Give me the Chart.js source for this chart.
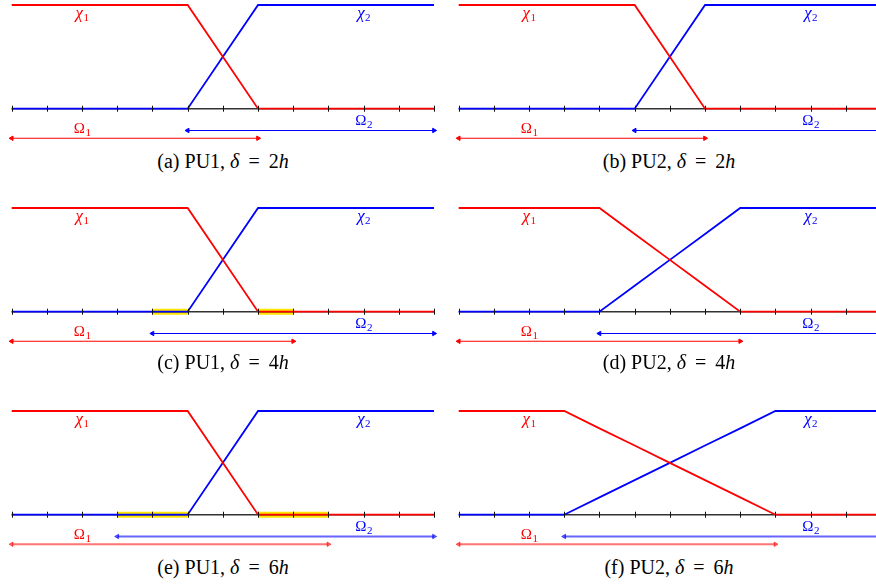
<!DOCTYPE html>
<html>
<head>
<meta charset="utf-8">
<script src="https://cdn.jsdelivr.net/npm/chart.js@4/dist/chart.umd.min.js"></script>
<style>
  html, body { margin: 0; padding: 0; background: #fff; }
  body { width: 876px; height: 586px; overflow: hidden; position: relative; }
  .panel { position: absolute; width: 440px; height: 150px; }
  .cap {
    position: absolute; transform: translate(-50%, -50%);
    font-family: "Liberation Serif", "DejaVu Serif", serif; font-size: 20px;
    white-space: nowrap; color: #000; line-height: 1;
  }
  .cap .eq { display: inline-block; padding: 0 0.45em; }
</style>
</head>
<body>
<script>
// ── Data ─────────────────────────────────
// grid nodes along the axis (ticks)
const xTicks = [0, 1, 2, 3, 4, 5, 6, 7, 8, 9, 10, 11, 12];

const captionTags = ['(a)', '(b)', '(c)', '(d)', '(e)', '(f)'];
const methods = ['PU1', 'PU2', 'PU1', 'PU2', 'PU1', 'PU2'];
const deltas = ['2', '2', '4', '4', '6', '6'];

// χ1 at every grid node, one row per panel
const chi1Values = [
  [1, 1, 1, 1, 1, 1, 0.5, 0, 0, 0, 0, 0, 0],
  [1, 1, 1, 1, 1, 1, 0.5, 0, 0, 0, 0, 0, 0],
  [1, 1, 1, 1, 1, 1, 0.5, 0, 0, 0, 0, 0, 0],
  [1, 1, 1, 1, 1, 0.75, 0.5, 0.25, 0, 0, 0, 0, 0],
  [1, 1, 1, 1, 1, 1, 0.5, 0, 0, 0, 0, 0, 0],
  [1, 1, 1, 1, 0.833, 0.667, 0.5, 0.333, 0.167, 0, 0, 0, 0]
];
// χ2 at every grid node
const chi2Values = [
  [0, 0, 0, 0, 0, 0, 0.5, 1, 1, 1, 1, 1, 1],
  [0, 0, 0, 0, 0, 0, 0.5, 1, 1, 1, 1, 1, 1],
  [0, 0, 0, 0, 0, 0, 0.5, 1, 1, 1, 1, 1, 1],
  [0, 0, 0, 0, 0, 0.25, 0.5, 0.75, 1, 1, 1, 1, 1],
  [0, 0, 0, 0, 0, 0, 0.5, 1, 1, 1, 1, 1, 1],
  [0, 0, 0, 0, 0.167, 0.333, 0.5, 0.667, 0.833, 1, 1, 1, 1]
];
// subdomain extents [start, end]
const omega1 = [[0, 7], [0, 7], [0, 8], [0, 8], [0, 9], [0, 9]];
const omega2 = [[5, 12], [5, 12], [4, 12], [4, 12], [3, 12], [3, 12]];
// highlighted overlap bands
const bands = [[], [], [[4, 5], [7, 8]], [], [[3, 5], [7, 9]], []];
// where the labels sit along x
const chiLabelX = [2, 10];
const omegaLabelX = [2, 10];

// ── Layout / style ─────────────────────────────────
const colLeft = [0, 446.6];
const rowTop = [0, 203, 406];
const capCenter = [[223, 161], [669, 161], [223, 362], [669, 362], [223, 567], [669, 567]];
const arrowY = [-0.21, -0.285];
const arrowWidth = [1.2, 1.2, 1.2, 1.2, 2, 2];
const RED = '#ff0000', BLUE = '#0000ff';
const RED_SOFT = 'rgba(255,0,0,0.55)', BLUE_SOFT = 'rgba(0,0,255,0.6)';

Chart.defaults.animation = false;

const decor = {
  id: 'decor',
  afterDatasetsDraw(chart, args, opts) {
    const ctx = chart.ctx, xs = chart.scales.x, ys = chart.scales.y;
    const y0 = ys.getPixelForValue(0);
    ctx.save();
    // tick marks
    ctx.strokeStyle = '#111';
    ctx.lineWidth = 1;
    xTicks.forEach(t => {
      const px = Math.round(xs.getPixelForValue(t)) + 0.5;
      ctx.beginPath(); ctx.moveTo(px, y0 - 3); ctx.lineTo(px, y0 + 3); ctx.stroke();
    });
    // labels
    const serif = '"Liberation Serif", "DejaVu Serif", serif';
    const label = (main, sub, x, base, color, italic, size) => {
      const mainFont = (italic ? 'italic ' : '') + size + 'px ' + serif;
      const subFont = '11px ' + serif;
      ctx.fillStyle = color;
      ctx.textBaseline = 'alphabetic';
      ctx.textAlign = 'left';
      ctx.font = mainFont;
      const w1 = ctx.measureText(main).width;
      ctx.font = subFont;
      const w2 = ctx.measureText(sub).width;
      const left = x - (w1 + w2) / 2;
      ctx.font = mainFont;
      ctx.fillText(main, left, base);
      ctx.font = subFont;
      ctx.fillText(sub, left + w1 + 0.5, base + 3);
    };
    const yTop = ys.getPixelForValue(1);
    label('χ', '1', xs.getPixelForValue(chiLabelX[0]), yTop + 13, RED, true, 17);
    label('χ', '2', xs.getPixelForValue(chiLabelX[1]), yTop + 13, BLUE, true, 17);
    label('Ω', '1', xs.getPixelForValue(omegaLabelX[0]), ys.getPixelForValue(arrowY[1]) - 5, RED, false, 15);
    label('Ω', '2', xs.getPixelForValue(omegaLabelX[1]), ys.getPixelForValue(arrowY[0]) - 5, BLUE, false, 15);
    ctx.restore();
  }
};

function nodes(values) {
  return values.map((v, i) => ({ x: xTicks[i], y: v }));
}

function bandPoints(list) {
  const pts = [];
  list.forEach(([a, b]) => {
    pts.push({ x: a, y: 0 }, { x: b, y: 0 }, { x: b, y: null });
  });
  return pts;
}

function arrow(range, y, color, width) {
  return {
    data: [{ x: range[0], y: y }, { x: range[1], y: y }],
    showLine: true, borderColor: color, backgroundColor: color, borderWidth: width,
    pointStyle: 'triangle', pointRadius: 2.6, pointBorderWidth: 1, pointBorderColor: color,
    pointRotation: [270, 90], clip: false, order: 3
  };
}

for (let i = 0; i < 6; i++) {
  const col = i % 2, row = Math.floor(i / 2);
  const box = document.createElement('div');
  box.className = 'panel';
  box.style.left = colLeft[col] + 'px';
  box.style.top = rowTop[row] + 'px';
  const canvas = document.createElement('canvas');
  canvas.width = 440; canvas.height = 150;
  box.appendChild(canvas);
  document.body.appendChild(box);

  const cap = document.createElement('div');
  cap.className = 'cap';
  cap.style.left = capCenter[i][0] + 'px';
  cap.style.top = capCenter[i][1] + 'px';
  cap.innerHTML = `${captionTags[i]} ${methods[i]}, <i>δ</i><span class="eq">=</span>${deltas[i]}<i>h</i>`;
  document.body.appendChild(cap);

  const soft = i >= 4;
  new Chart(canvas, {
    type: 'scatter',
    data: {
      datasets: [
        { data: nodes(chi1Values[i]), showLine: true, borderColor: RED, borderWidth: 1.8, pointRadius: 0, tension: 0, clip: false, order: 1 },
        { data: nodes(chi2Values[i]), showLine: true, borderColor: BLUE, borderWidth: 1.8, pointRadius: 0, tension: 0, clip: false, order: 2 },
        arrow(omega2[i], arrowY[0], soft ? BLUE_SOFT : BLUE, arrowWidth[i]),
        arrow(omega1[i], arrowY[1], soft ? RED_SOFT : RED, arrowWidth[i]),
        { data: [{ x: xTicks[0], y: 0 }, { x: xTicks[xTicks.length - 1], y: 0 }], showLine: true, borderColor: '#333', borderWidth: 1.4, pointRadius: 0, clip: false, order: 5 },
        { data: bandPoints(bands[i]), showLine: true, spanGaps: false, borderColor: '#ffe600', borderWidth: 6, borderCapStyle: 'butt', pointRadius: 0, clip: false, order: 6 }
      ]
    },
    options: {
      responsive: false,
      events: [],
      layout: { padding: { left: 11.7, right: 6, top: 5, bottom: 3.9 } },
      scales: {
        x: { type: 'linear', min: 0, max: 12, display: false },
        y: { type: 'linear', min: -0.35, max: 1, display: false }
      },
      plugins: { legend: { display: false }, tooltip: { enabled: false }, decor: {} }
    },
    plugins: [decor]
  });
}
</script>
</body>
</html>
